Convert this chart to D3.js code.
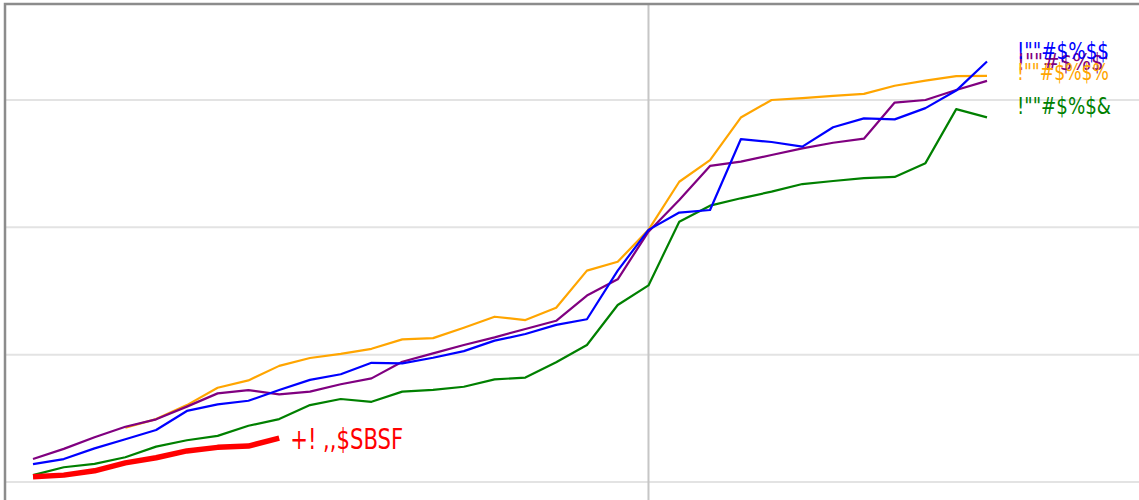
<!DOCTYPE html>
<html>
<head>
<meta charset="utf-8">
<script src="https://cdn.jsdelivr.net/npm/d3@7"></script>
<style>
  body { margin: 0; background: #fff; }
  svg { display: block; }
  .lbl { font-family: "DejaVu Sans Condensed", "DejaVu Sans", sans-serif; }
</style>
</head>
<body>
<svg id="chart" width="1139" height="500"></svg>
<script>
// categories (x positions, one per period)
var years = d3.range(1990, 2022);
var markYear = 2010;
var gridValues = [50, 100, 150, 200];

// series values
var blueValues = [57.0, 59.0, 63.2, 66.8, 70.4, 77.9, 80.5, 81.9, 86.1, 90.1, 92.3, 96.8, 96.6, 98.8, 101.4, 105.5,
    108.1, 111.7, 113.9, 133.0, 149.0, 155.8, 156.8, 184.6, 183.5, 181.7, 189.3, 192.8, 192.4, 196.8, 203.7, 215.1];
var purpleValues = [59.0, 63.0, 67.6, 71.7, 74.6, 79.6, 84.8, 86.1, 84.4, 85.5, 88.4, 90.7, 97.2, 100.5, 103.8, 106.8,
    110.1, 113.3, 123.2, 129.6, 148.3, 160.7, 174.1, 175.8, 178.4, 181.0, 183.2, 184.8, 199.0, 200.0, 203.9, 207.5];
var orangeValues = [null, null, null, 71.3, 74.7, 80.2, 87.0, 89.9, 95.6, 98.7, 100.3, 102.3, 106.0, 106.5, 110.6, 114.9,
    113.6, 118.4, 133.0, 136.5, 149.0, 167.9, 176.4, 193.1, 200.0, 200.7, 201.6, 202.4, 205.6, 207.6, 209.4, 209.5];
var greenValues = [52.7, 55.8, 57.1, 59.7, 63.9, 66.4, 68.1, 72.1, 74.7, 80.2, 82.6, 81.5, 85.5, 86.2, 87.4, 90.3,
    91.0, 97.0, 103.8, 119.5, 127.2, 152.2, 158.5, 161.4, 164.0, 167.0, 168.2, 169.3, 169.8, 175.2, 196.4, 193.2];
var redValues = [52.1, 52.7, 54.4, 57.5, 59.5, 62.2, 63.6, 64.1, 67.2];

// label texts (as shown) and the value level each label sits at
var seriesNames = ['!""#$%$$', '!""#$%$\'', '!""#$%$%', '!""#$%$&', '+! ,,$SBSF'];
var labelValues = [219.4, 215.0, 211.2, 197.5, 67.0];

var svg = d3.select('#chart');
var W = 1139, H = 500;

var x = d3.scaleLinear()
    .domain([d3.min(years), d3.max(years)])
    .range([33, 987]);
var y = d3.scaleLinear()
    .domain([50, 200])
    .range([482, 100]);

// horizontal grid
svg.append('g')
    .selectAll('line')
    .data(gridValues)
    .enter()
    .append('line')
    .attr('x1', 5).attr('x2', W)
    .attr('y1', function(d) { return y(d); })
    .attr('y2', function(d) { return y(d); })
    .style('stroke', '#e3e3e3')
    .style('stroke-width', 2);

// vertical marker
svg.append('line')
    .attr('x1', x(markYear)).attr('x2', x(markYear))
    .attr('y1', 4).attr('y2', H)
    .style('stroke', '#c6c6c6')
    .style('stroke-width', 2);

// frame (only top and left are visible)
svg.append('path')
    .attr('d', 'M5,' + H + 'V4H' + W)
    .style('fill', 'none')
    .style('stroke', '#8c8c8c')
    .style('stroke-width', 2.5);

var line = d3.line()
    .defined(function(d) { return d != null; })
    .x(function(d, i) { return x(years[i]); })
    .y(function(d) { return y(d); });

var series = [
    { vals: orangeValues, color: 'orange', w: 2.2 },
    { vals: purpleValues, color: 'purple', w: 2.2 },
    { vals: greenValues, color: 'green', w: 2.2 },
    { vals: blueValues, color: 'blue', w: 2.2 },
    { vals: redValues, color: 'red', w: 5.5 }
];

svg.append('g')
    .selectAll('path')
    .data(series)
    .enter()
    .append('path')
    .attr('d', function(d) { return line(d.vals); })
    .style('fill', 'none')
    .style('stroke', function(d) { return d.color; })
    .style('stroke-width', function(d) { return d.w; })
    .style('stroke-linejoin', 'round');

// labels
var labels = [
    { name: seriesNames[1], v: labelValues[1], color: 'purple', x: x(2021) + 30, size: 23, len: 92 },
    { name: seriesNames[0], v: labelValues[0], color: 'blue', x: x(2021) + 30, size: 23, len: 92 },
    { name: seriesNames[2], v: labelValues[2], color: 'orange', x: x(2021) + 30, size: 23, len: 92 },
    { name: seriesNames[3], v: labelValues[3], color: 'green', x: x(2021) + 30, size: 23, len: 94 },
    { name: seriesNames[4], v: labelValues[4], color: 'red', x: x(years[redValues.length - 1]) + 11, size: 28, len: 113 }
];

svg.append('g')
    .selectAll('text')
    .data(labels)
    .enter()
    .append('text')
    .attr('class', 'lbl')
    .attr('x', function(d) { return d.x; })
    .attr('y', function(d) { return y(d.v); })
    .attr('dy', '0.35em')
    .attr('textLength', function(d) { return d.len; })
    .attr('lengthAdjust', 'spacingAndGlyphs')
    .style('font-size', function(d) { return d.size + 'px'; })
    .style('fill', function(d) { return d.color; })
    .text(function(d) { return d.name; });
</script>
</body>
</html>
